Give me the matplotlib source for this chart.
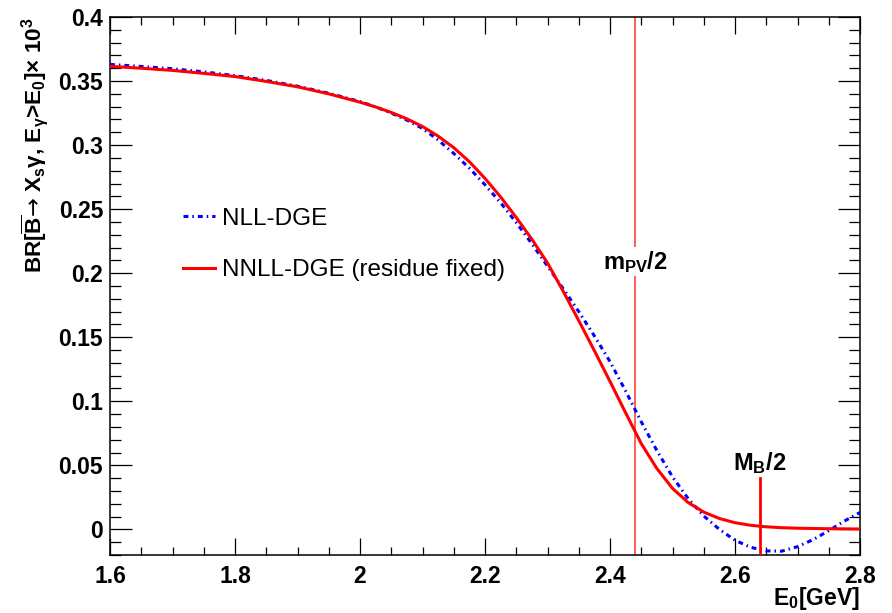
import numpy as np
import matplotlib
matplotlib.use("Agg")
import matplotlib.pyplot as plt

plt.rcParams['font.family'] = ['Liberation Sans', 'DejaVu Sans']
plt.rcParams['mathtext.fontset'] = 'custom'
plt.rcParams['mathtext.rm'] = 'Liberation Sans:bold'
plt.rcParams['mathtext.it'] = 'Liberation Sans:bold'
plt.rcParams['mathtext.bf'] = 'Liberation Sans:bold'
plt.rcParams['mathtext.sf'] = 'DejaVu Sans'   # only used for the arrow

e0 = [1.60, 1.65, 1.70, 1.75, 1.80, 1.85, 1.90, 1.95, 2.00, 2.025, 2.05, 2.075,
      2.10, 2.125, 2.15, 2.175, 2.20, 2.225, 2.25, 2.275, 2.30, 2.325, 2.35,
      2.375, 2.40, 2.425, 2.45, 2.475, 2.50, 2.525, 2.55, 2.575, 2.60, 2.625,
      2.65, 2.675, 2.70, 2.725, 2.75, 2.775, 2.80]
nnll = [0.3615, 0.3600, 0.3583, 0.3560, 0.3535, 0.3497, 0.3455, 0.3400, 0.3335,
        0.3298, 0.3255, 0.3205, 0.3145, 0.3070, 0.2980, 0.2870, 0.2740, 0.2595,
        0.2435, 0.2265, 0.2080, 0.1860, 0.1630, 0.1395, 0.1155, 0.0910, 0.0670,
        0.0475, 0.0320, 0.0210, 0.0135, 0.0085, 0.0052, 0.0032, 0.0020, 0.0013,
        0.0009, 0.0007, 0.0005, 0.0004, 0.0003]
nll = [0.3630, 0.3614, 0.3596, 0.3572, 0.3542, 0.3505, 0.3460, 0.3405, 0.3340,
       0.3298, 0.3250, 0.3195, 0.3130, 0.3040, 0.2935, 0.2820, 0.2690, 0.2550,
       0.2395, 0.2230, 0.2055, 0.1880, 0.1700, 0.1510, 0.1310, 0.1080, 0.0840,
       0.0615, 0.0410, 0.0240, 0.0105, 0.0000, -0.0085, -0.0140, -0.0168,
       -0.0170, -0.0135, -0.0080, -0.0010, 0.0065, 0.0132]

m_pv_half = 2.44
m_b_half = 2.64
m_b_line_top = 0.04

x_ticks = [1.6, 1.8, 2.0, 2.2, 2.4, 2.6, 2.8]
x_tick_labels = ['1.6', '1.8', '2', '2.2', '2.4', '2.6', '2.8']
y_ticks = [0, 0.05, 0.1, 0.15, 0.2, 0.25, 0.3, 0.35, 0.4]
y_tick_labels = ['0', '0.05', '0.1', '0.15', '0.2', '0.25', '0.3', '0.35', '0.4']

fig = plt.figure(figsize=(8.92, 6.13), dpi=100)
ax = fig.add_axes([110/892, 1-555/613, 750/892, 538/613])

ax.plot(e0, nll, color='#0000ff', lw=2.2, dashes=[1.6, 1.3, 0.5, 1.3],
        label='NLL-DGE', zorder=3)
ax.plot(e0, nnll, color='#ff0000', lw=2.2, label='NNLL-DGE (residue fixed)', zorder=4)

ax.axvline(m_pv_half, color='#ff5050', lw=1.3, zorder=2)
ax.plot([m_b_half, m_b_half], [-0.02, m_b_line_top], color='#ff0000', lw=2.0, zorder=5)

ax.text(m_pv_half, 0.209, r'm$_{PV}$/2', ha='center', va='center', fontsize=17,
        fontweight='bold', zorder=6,
        bbox=dict(facecolor='white', edgecolor='none', pad=1))
ax.text(m_b_half, 0.0465, r'M$_{B}$/2', ha='center', va='baseline', fontsize=17,
        fontweight='bold', zorder=6)

ax.set_xlim(1.6, 2.8)
ax.set_ylim(-0.02, 0.4)
ax.set_xticks(x_ticks)
ax.set_xticklabels(x_tick_labels)
ax.set_yticks(y_ticks)
ax.set_yticklabels(y_tick_labels)
ax.set_xticks(np.arange(1.6, 2.8001, 0.05), minor=True)
ax.set_yticks(np.arange(-0.02, 0.4001, 0.01), minor=True)

ax.tick_params(which='both', direction='in', top=True, right=True, width=0.9)
ax.tick_params(axis='x', which='major', length=12, pad=7, labelsize=16.5)
ax.tick_params(axis='x', which='minor', length=6)
ax.tick_params(axis='y', which='major', length=16, pad=5, labelsize=16.5)
ax.tick_params(axis='y', which='minor', length=8)
for lab in ax.get_xticklabels() + ax.get_yticklabels():
    lab.set_fontweight('bold')
for sp in ax.spines.values():
    sp.set_linewidth(1.1)

ax.set_xlabel(r'E$_{0}$[GeV]', loc='right', fontsize=16.5, fontweight='bold', labelpad=-2)
ax.set_ylabel('BR[$\\overline{\\mathrm{B}}\\mathsf{\u2192}$ X$_{s}\\gamma$, '
              'E$_{\\gamma}$>E$_{0}$]\u00d7 10$^{3}$',
              loc='top', fontsize=16.2, fontweight='bold', labelpad=6)

ax.legend(loc='upper left', bbox_to_anchor=(0.0973, 0.645), frameon=False,
          fontsize=17.5, borderpad=0, borderaxespad=0, handlelength=1.31,
          handletextpad=0.29, labelspacing=1.21)

fig.savefig('out.png', dpi=100)
